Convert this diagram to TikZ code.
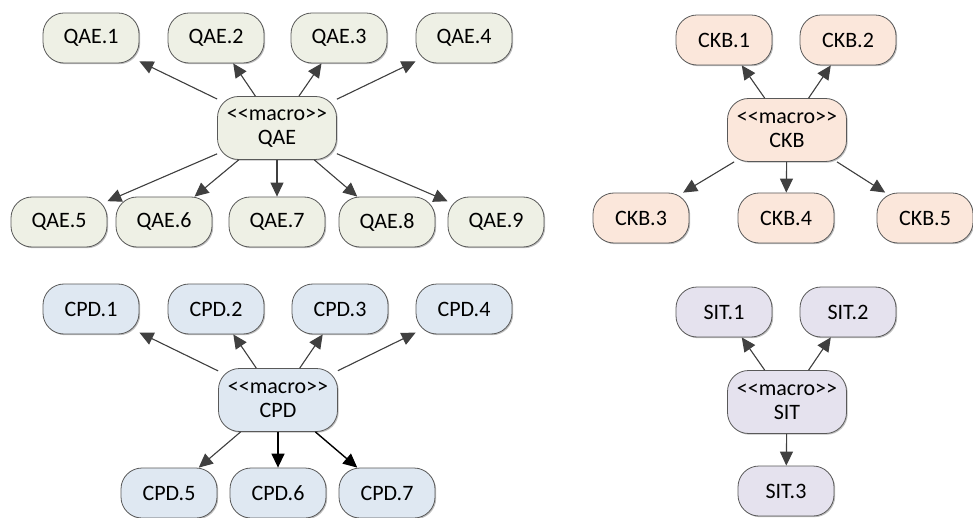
\documentclass[tikz,border=0pt]{standalone}
\usepackage{fontspec}
\setmainfont{Carlito}[Ligatures=TeXOff]
\usetikzlibrary{arrows.meta,shadows}
\definecolor{qaefill}{HTML}{EEF0E5}
\definecolor{ckbfill}{HTML}{FBE7DB}
\definecolor{cpdfill}{HTML}{DFE8F2}
\definecolor{sitfill}{HTML}{E5E2EE}
\definecolor{edgegray}{HTML}{404040}
\begin{document}
\begin{tikzpicture}[x=1pt,y=-1pt,>={Triangle[length=14pt,width=13pt]},line join=round,
	font=\fontsize{22}{24}\selectfont,
	leaf/.style={draw=black!65,line width=0.8pt,rounded corners=21pt,minimum width=96pt,minimum height=50pt,inner sep=0pt,
		drop shadow={shadow xshift=1.2pt,shadow yshift=-1.2pt,fill=black,opacity=0.25}},
	macro/.style={leaf,minimum width=119pt,minimum height=63pt,align=center},
	link/.style={->,draw=edgegray,fill=edgegray,line width=1.1pt},
	boldlink/.style={->,draw=black,fill=black,line width=1.4pt}]
	\useasboundingbox (0,0) rectangle (973,518);
	%QAE
	\node[macro,fill=qaefill] (QAE) at (277,128) {<<macro>>\\QAE};
	\node[leaf,fill=qaefill] (QAE1) at (91,38) {QAE.1};
	\node[leaf,fill=qaefill] (QAE2) at (216,38) {QAE.2};
	\node[leaf,fill=qaefill] (QAE3) at (339,38) {QAE.3};
	\node[leaf,fill=qaefill] (QAE4) at (464,38) {QAE.4};
	\node[leaf,fill=qaefill] (QAE5) at (59,222) {QAE.5};
	\node[leaf,fill=qaefill] (QAE6) at (164,222) {QAE.6};
	\node[leaf,fill=qaefill] (QAE7) at (277,222) {QAE.7};
	\node[leaf,fill=qaefill] (QAE8) at (387,222) {QAE.8};
	\node[leaf,fill=qaefill] (QAE9) at (496,222) {QAE.9};
	\foreach \i in {1,...,9}
		\draw[link] (QAE) -- (QAE\i);
	%CKB
	\node[macro,fill=ckbfill] (CKB) at (787,130) {<<macro>>\\CKB};
	\node[leaf,fill=ckbfill] (CKB1) at (724,40) {CKB.1};
	\node[leaf,fill=ckbfill] (CKB2) at (848,40) {CKB.2};
	\node[leaf,fill=ckbfill] (CKB3) at (641,218) {CKB.3};
	\node[leaf,fill=ckbfill] (CKB4) at (786,218) {CKB.4};
	\node[leaf,fill=ckbfill] (CKB5) at (925,218) {CKB.5};
	\foreach \i in {1,...,5}
		\draw[link] (CKB) -- (CKB\i);
	%CPD
	\node[macro,fill=cpdfill] (CPD) at (278,400) {<<macro>>\\CPD};
	\node[leaf,fill=cpdfill] (CPD1) at (91,309) {CPD.1};
	\node[leaf,fill=cpdfill] (CPD2) at (216,309) {CPD.2};
	\node[leaf,fill=cpdfill] (CPD3) at (340,309) {CPD.3};
	\node[leaf,fill=cpdfill] (CPD4) at (464,309) {CPD.4};
	\node[leaf,fill=cpdfill] (CPD5) at (169,493) {CPD.5};
	\node[leaf,fill=cpdfill] (CPD6) at (278,493) {CPD.6};
	\node[leaf,fill=cpdfill] (CPD7) at (387,493) {CPD.7};
	\foreach \i in {1,...,5}
		\draw[link] (CPD) -- (CPD\i);
	\draw[boldlink] (CPD) -- (CPD6);
	\draw[boldlink] (CPD) -- (CPD7);
	%SIT
	\node[macro,fill=sitfill] (SIT) at (787,402) {<<macro>>\\SIT};
	\node[leaf,fill=sitfill] (SIT1) at (724,312) {SIT.1};
	\node[leaf,fill=sitfill] (SIT2) at (848,312) {SIT.2};
	\node[leaf,fill=sitfill] (SIT3) at (786,491) {SIT.3};
	\foreach \i in {1,2,3}
		\draw[link] (SIT) -- (SIT\i);
\end{tikzpicture}
\end{document}
